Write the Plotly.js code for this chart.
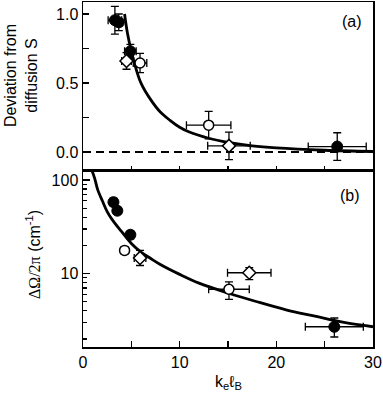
<!DOCTYPE html>
<html><head><meta charset="utf-8">
<script src="https://cdn.plot.ly/plotly-3.0.1.min.js"></script>
<style>html,body{margin:0;padding:0;background:#fff}#g{width:383px;height:396px}</style>
</head><body><div id="g"></div>
<script>
// ---- Panel (a): deviation from diffusion S ----
const aFilledX = [3.3, 3.7, 4.9, 26.3];
const aFilledY = [0.955, 0.94, 0.73, 0.04];
const aFilledXErr = [0.7, 0.4, 0.6, 3.0];
const aFilledYErr = [0.1, 0.06, 0.05, 0.1];
const aOpenCircX = [5.9, 13.0];
const aOpenCircY = [0.645, 0.195];
const aOpenCircXErr = [0.7, 2.3];
const aOpenCircYErr = [0.07, 0.1];
const aDiamX = [4.5, 15.1];
const aDiamY = [0.66, 0.045];
const aDiamXErr = [0.5, 2.2];
const aDiamYErr = [0.06, 0.1];
const aFitX = [4.3, 4.6, 5, 5.5, 6, 7, 8, 9, 10, 11, 13, 15, 17.5, 20, 25, 30];
const aFitY = [1.0, 0.86, 0.73, 0.6, 0.5, 0.38, 0.29, 0.23, 0.18, 0.145, 0.1, 0.07, 0.045, 0.03, 0.013, 0.004];
const aZeroX = [0, 30];
const aZeroY = [0, 0];

// ---- Panel (b): ΔΩ/2π ----
const bFilledX = [3.15, 3.55, 4.9, 26.0];
const bFilledY = [58, 47, 26, 2.7];
const bFilledXErr = [0.3, 0.3, 0.3, 3.0];
const bFilledYErrPlus = [6, 4, 2.5, 0.65];
const bFilledYErrMinus = [5, 4, 2.5, 0.6];
const bOpenCircX = [4.3, 15.1];
const bOpenCircY = [17.7, 6.8];
const bOpenCircXErr = [0.3, 2.1];
const bOpenCircYErrPlus = [1.5, 1.35];
const bOpenCircYErrMinus = [1.5, 1.5];
const bDiamX = [5.9, 17.2];
const bDiamY = [14.7, 10.2];
const bDiamXErr = [0.6, 2.25];
const bDiamYErrPlus = [3, 1.4];
const bDiamYErrMinus = [2.5, 1.6];
const bFitX = [0.9, 1.2, 1.5, 2, 2.5, 3, 4, 5, 6, 7, 8, 10, 12, 15, 18, 21, 24, 27, 30];
const bFitY = [128, 105, 80, 60, 46, 38, 28, 21, 17, 14.5, 12.5, 9.8, 7.9, 6.2, 5.0, 4.1, 3.5, 3.0, 2.7];

const xTickVals = [0, 5, 10, 15, 20, 25, 30];
const xTickText = ['0', '', '10', '', '20', '', '30'];
const aTickVals = [0, 0.25, 0.5, 0.75, 1.0];
const aTickText = ['0.0', '', '0.5', '', '1.0'];
const bTickVals = [10, 100];
const bTickText = ['10', '100'];
const bMinorVals = [2,3,4,5,6,7,8,9,20,30,40,50,60,70,80,90];

const FONT = 'Liberation Sans, Arial, sans-serif';
const ebar = (arr, minus) => {
  const e = {type:'data', array:arr, color:'#000', thickness:1.3, width:4, visible:true};
  if (minus) { e.symmetric = false; e.arrayminus = minus; }
  return e;
};
const filled = {symbol:'circle', size:11, color:'#000', line:{color:'#000', width:1}};
const openC = {symbol:'circle', size:10, color:'#fff', line:{color:'#000', width:1.5}};
const openD = {symbol:'diamond', size:10, color:'#fff', line:{color:'#000', width:1.5}};

const traces = [
  {x:aZeroX, y:aZeroY, mode:'lines', line:{color:'#000', width:2, dash:'8px,5px'}, xaxis:'x', yaxis:'y'},
  {x:aFitX, y:aFitY, mode:'lines', line:{color:'#000', width:2.8, shape:'spline'}, xaxis:'x', yaxis:'y'},
  {x:aFilledX, y:aFilledY, mode:'markers', marker:filled, error_x:ebar(aFilledXErr), error_y:ebar(aFilledYErr), xaxis:'x', yaxis:'y'},
  {x:aOpenCircX, y:aOpenCircY, mode:'markers', marker:openC, error_x:ebar(aOpenCircXErr), error_y:ebar(aOpenCircYErr), xaxis:'x', yaxis:'y'},
  {x:aDiamX, y:aDiamY, mode:'markers', marker:openD, error_x:ebar(aDiamXErr), error_y:ebar(aDiamYErr), xaxis:'x', yaxis:'y'},
  {x:bFitX, y:bFitY, mode:'lines', line:{color:'#000', width:2.8, shape:'spline'}, xaxis:'x2', yaxis:'y2'},
  {x:bFilledX, y:bFilledY, mode:'markers', marker:filled, error_x:ebar(bFilledXErr), error_y:ebar(bFilledYErrPlus, bFilledYErrMinus), xaxis:'x2', yaxis:'y2'},
  {x:bOpenCircX, y:bOpenCircY, mode:'markers', marker:openC, error_x:ebar(bOpenCircXErr), error_y:ebar(bOpenCircYErrPlus, bOpenCircYErrMinus), xaxis:'x2', yaxis:'y2'},
  {x:bDiamX, y:bDiamY, mode:'markers', marker:openD, error_x:ebar(bDiamXErr), error_y:ebar(bDiamYErrPlus, bDiamYErrMinus), xaxis:'x2', yaxis:'y2'}
];

const axBase = {showgrid:false, zeroline:false, showline:true, linecolor:'#000', linewidth:1.5, mirror:true,
  ticks:'inside', ticklen:6, tickwidth:1.3, tickcolor:'#000', tickfont:{family:FONT, size:16, color:'#000'}};

const layout = {
  width:383, height:396, margin:{l:83, r:10, t:2, b:49},
  paper_bgcolor:'#fff', plot_bgcolor:'#fff', showlegend:false,
  font:{family:FONT, size:16, color:'#000'},
  xaxis: Object.assign({}, axBase, {range:[0,30], domain:[0,1], anchor:'y', tickmode:'array', tickvals:xTickVals, ticktext:xTickVals.map(()=>''), ticklen:4}),
  yaxis: Object.assign({}, axBase, {range:[-0.13,1.087], domain:[0.513,1], anchor:'x', tickmode:'array', tickvals:aTickVals, ticktext:aTickText}),
  xaxis2: Object.assign({}, axBase, {range:[0,30], domain:[0,1], anchor:'y2', tickmode:'array', tickvals:xTickVals, ticktext:xTickText}),
  yaxis2: Object.assign({}, axBase, {type:'log', range:[0.215,2.107], domain:[0,0.513], anchor:'x2', tickmode:'array', tickvals:bTickVals, ticktext:bTickText, ticklen:7,
    minor:{tickmode:'array', tickvals:bMinorVals, ticks:'inside', ticklen:4, tickwidth:1.2, tickcolor:'#000', showgrid:false}}),
  annotations:[
    {text:'(a)', xref:'paper', yref:'paper', x:0.927, y:0.943, xanchor:'center', yanchor:'middle', showarrow:false, font:{family:FONT, size:16}},
    {text:'(b)', xref:'paper', yref:'paper', x:0.921, y:0.44, xanchor:'center', yanchor:'middle', showarrow:false, font:{family:FONT, size:16}},
    {text:'Deviation from<br>diffusion S', xref:'paper', yref:'paper', x:-0.214, y:0.788, xanchor:'center', yanchor:'middle', textangle:-90, showarrow:false, font:{family:FONT, size:16}},
    {text:'<span style="font-family:Liberation Serif,Times New Roman,serif">ΔΩ/2π</span> (cm<sup>-1</sup>)', xref:'paper', yref:'paper', x:-0.172, y:0.267, xanchor:'center', yanchor:'middle', textangle:-90, showarrow:false, font:{family:FONT, size:16}},
    {text:'k<sub>e</sub>ℓ<sub>B</sub>', xref:'paper', yref:'paper', x:0.5, y:-0.104, xanchor:'center', yanchor:'middle', showarrow:false, font:{family:FONT, size:16}}
  ]
};
Plotly.newPlot('g', traces, layout, {staticPlot:true, displayModeBar:false});
</script></body></html>
